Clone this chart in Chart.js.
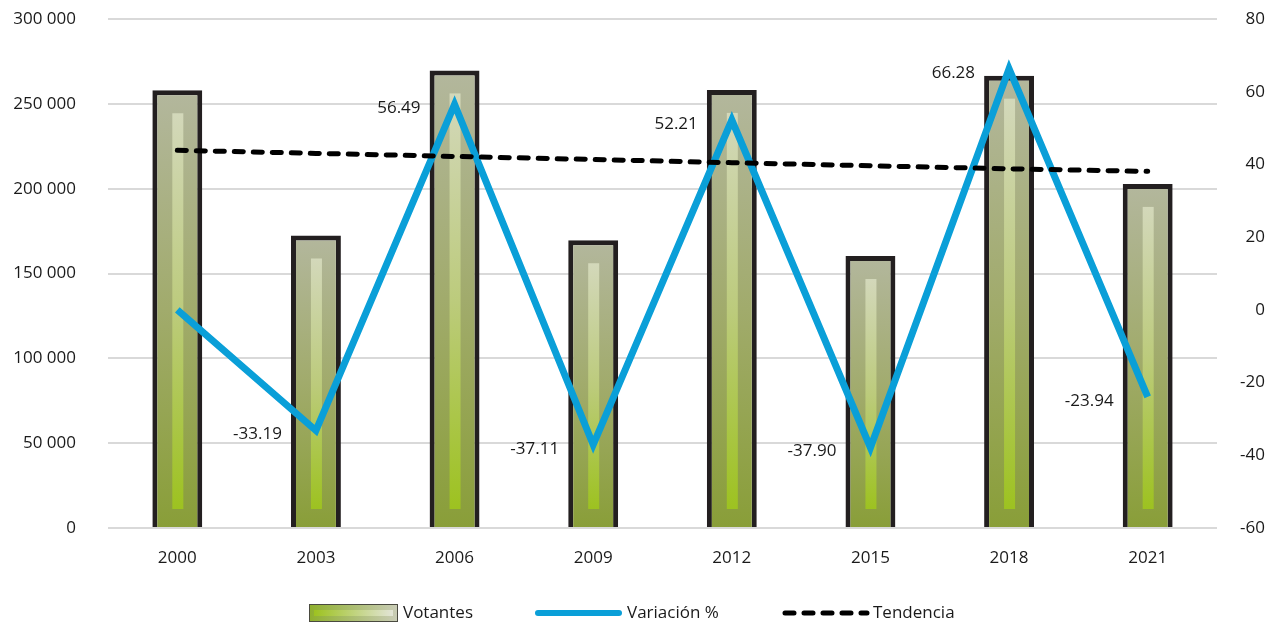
<!DOCTYPE html>
<html>
<head>
<meta charset="utf-8">
<script src="https://cdn.jsdelivr.net/npm/chart.js@4/dist/chart.umd.min.js"></script>
<style>
  html, body { margin: 0; padding: 0; background: #fff; }
</style>
</head>
<body>
<canvas id="chart" width="1274" height="631"></canvas>
<script>
// datos
const years = ['2000', '2003', '2006', '2009', '2012', '2015', '2018', '2021'];
const votantes = [258000, 172400, 269700, 169600, 258200, 160300, 266600, 202800];
const variacion = [0, -33.19, 56.49, -37.11, 52.21, -37.90, 66.28, -23.94];
const variacionLabels = ['', '-33.19', '56.49', '-37.11', '52.21', '-37.90', '66.28', '-23.94'];
const tendencia = [222600, 220800, 219000, 217200, 215300, 213500, 211700, 210200];
const leftTicks = ['0', '50 000', '100 000', '150 000', '200 000', '250 000', '300 000'];
const rightTicks = ['-60', '-40', '-20', '0', '20', '40', '60', '80'];
const legendNames = ['Votantes', 'Variación %', 'Tendencia'];

const FONT = "'Open Sans', 'Noto Sans', sans-serif";
const TEXT = '#1a1a1a';
const BLUE = '#0a9fd8';

// degradado de cada barra, de arriba (gris) a la base (verde)
function barFill(context) {
  const chart = context.chart;
  if (!chart.chartArea || context.dataIndex === undefined) return '#a3ad6f';
  const y = chart.scales.y;
  const top = y.getPixelForValue(votantes[context.dataIndex]);
  const base = y.getPixelForValue(0);
  const g = chart.ctx.createLinearGradient(0, top, 0, base);
  g.addColorStop(0, '#b3b79d');
  g.addColorStop(0.5, '#a1ab6c');
  g.addColorStop(1, '#899e38');
  return g;
}

// franja clara en el centro de las barras
const barStripes = {
  id: 'barStripes',
  afterDatasetDraw(chart, args) {
    if (args.index !== 0) return;
    const ctx = chart.ctx;
    args.meta.data.forEach(bar => {
      const top = bar.y + 23;
      const bottom = bar.base - 18;
      const g = ctx.createLinearGradient(0, top, 0, bottom);
      g.addColorStop(0, '#d3d8ba');
      g.addColorStop(0.5, '#bccb7c');
      g.addColorStop(1, '#9dc220');
      ctx.save();
      ctx.fillStyle = g;
      ctx.fillRect(bar.x - 5, top, 11, bottom - top);
      ctx.restore();
    });
  }
};

// etiquetas de la variacion a la izquierda de cada punto
const varLabels = {
  id: 'varLabels',
  afterDatasetsDraw(chart) {
    const meta = chart.getDatasetMeta(1);
    const ctx = chart.ctx;
    ctx.save();
    ctx.font = '17px ' + FONT;
    ctx.fillStyle = TEXT;
    ctx.textAlign = 'right';
    ctx.textBaseline = 'middle';
    meta.data.forEach((pt, i) => {
      if (!variacionLabels[i]) return;
      ctx.fillText(variacionLabels[i], pt.x - 34, pt.y + 4);
    });
    ctx.restore();
  }
};

// leyenda abajo
const bottomLegend = {
  id: 'bottomLegend',
  afterDraw(chart) {
    const ctx = chart.ctx;
    const cy = 613;
    ctx.save();
    // Votantes
    const g = ctx.createLinearGradient(310, 0, 397, 0);
    g.addColorStop(0, '#8fb02e');
    g.addColorStop(1, '#c9ccb6');
    ctx.fillStyle = g;
    ctx.fillRect(310, 605, 87, 16);
    const g2 = ctx.createLinearGradient(314, 0, 393, 0);
    g2.addColorStop(0, '#9dc220');
    g2.addColorStop(1, '#e2e4d6');
    ctx.fillStyle = g2;
    ctx.fillRect(314, 610, 79, 6);
    ctx.strokeStyle = '#4a4a40';
    ctx.lineWidth = 1;
    ctx.strokeRect(309.5, 604.5, 88, 17);
    // Variacion
    ctx.strokeStyle = BLUE;
    ctx.lineWidth = 6;
    ctx.lineCap = 'round';
    ctx.beginPath();
    ctx.moveTo(538, cy);
    ctx.lineTo(619, cy);
    ctx.stroke();
    // Tendencia
    ctx.strokeStyle = '#000';
    ctx.lineWidth = 5;
    ctx.setLineDash([9, 10]);
    ctx.beginPath();
    ctx.moveTo(785, cy);
    ctx.lineTo(867, cy);
    ctx.stroke();
    ctx.setLineDash([]);
    // textos
    ctx.font = '17px ' + FONT;
    ctx.fillStyle = TEXT;
    ctx.textBaseline = 'middle';
    ctx.textAlign = 'left';
    ctx.fillText(legendNames[0], 403, cy);
    ctx.fillText(legendNames[1], 627, cy);
    ctx.fillText(legendNames[2], 873, cy);
    ctx.restore();
  }
};

const ctx = document.getElementById('chart').getContext('2d');
const chart = new Chart(ctx, {
  data: {
    labels: years,
    datasets: [
      {
        type: 'bar',
        label: legendNames[0],
        data: votantes,
        yAxisID: 'y',
        backgroundColor: barFill,
        borderColor: '#231f20',
        borderWidth: 5,
        borderSkipped: 'start',
        barPercentage: 0.36,
        categoryPercentage: 1,
        order: 2
      },
      {
        type: 'line',
        label: legendNames[1],
        data: variacion,
        yAxisID: 'y1',
        borderColor: BLUE,
        borderWidth: 7,
        pointRadius: 0,
        tension: 0,
        borderJoinStyle: 'miter',
        borderCapStyle: 'butt',
        order: 1
      },
      {
        type: 'line',
        label: legendNames[2],
        data: tendencia,
        yAxisID: 'y',
        borderColor: '#000',
        borderWidth: 5,
        borderDash: [9, 10],
        borderCapStyle: 'round',
        pointRadius: 0,
        order: 0
      }
    ]
  },
  options: {
    responsive: false,
    animation: false,
    layout: { padding: { top: 19, right: 9, left: 0, bottom: 0 } },
    plugins: {
      legend: { display: false },
      tooltip: { enabled: false }
    },
    scales: {
      x: {
        grid: { display: false, drawTicks: false },
        border: { display: false },
        ticks: { color: TEXT, font: { family: FONT, size: 17 }, padding: 20 },
        afterFit(scale) { scale.height = 103; }
      },
      y: {
        position: 'left',
        min: 0,
        max: 300000,
        grid: { color: '#d9d9d9', lineWidth: 2, drawTicks: false },
        border: { display: false },
        ticks: {
          stepSize: 50000,
          color: TEXT,
          font: { family: FONT, size: 17 },
          padding: 32,
          callback: (v) => leftTicks[Math.round(v / 50000)]
        },
        afterFit(scale) {
          scale.width = 108;
          // el padding de las etiquetas no debe empujar el area
          scale.paddingTop = 10;
          scale.paddingBottom = 10;
        }
      },
      y1: {
        position: 'right',
        min: -60,
        max: 80,
        grid: { display: false, drawTicks: false },
        border: { display: false },
        ticks: {
          stepSize: 20,
          color: TEXT,
          font: { family: FONT, size: 17 },
          crossAlign: 'far',
          callback: (v) => rightTicks[Math.round((v + 60) / 20)]
        },
        afterFit(scale) { scale.width = 48; }
      }
    }
  },
  plugins: [barStripes, varLabels, bottomLegend]
});
</script>
</body>
</html>
